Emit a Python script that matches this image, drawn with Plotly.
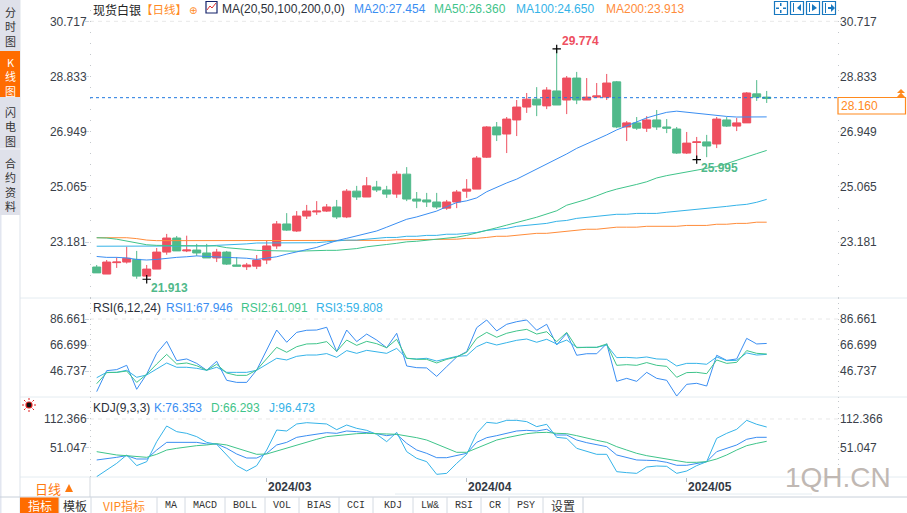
import plotly.graph_objects as go

W, H = 907, 513

# daily candles
idx = list(range(68))
open_ = [22.33, 22.09, 22.48, 22.50, 22.59, 22.02, 22.26, 22.84, 23.32, 22.88, 22.91, 22.81, 22.64, 22.84, 22.40, 22.34, 22.36,
         22.57, 23.05, 23.80, 23.56, 24.07, 24.21, 24.24, 24.38, 24.04, 24.92, 24.72, 25.06, 24.96, 24.82, 25.50, 24.65, 24.62,
         24.55, 24.34, 24.55, 24.92, 24.99, 26.08, 27.11, 26.87, 27.35, 27.79, 28.06, 27.83, 28.34, 28.03, 28.78, 28.03, 28.13,
         28.13, 28.65, 27.11, 27.25, 27.07, 27.35, 27.11, 27.04, 26.22, 26.58, 26.60, 26.53, 27.35, 27.14, 27.25, 28.24, 28.13]
high = [22.40, 22.57, 22.66, 23.02, 22.88, 22.40, 22.98, 23.46, 23.39, 23.40, 23.12, 23.12, 22.95, 22.88, 22.67, 22.47, 22.74,
        23.22, 23.90, 24.17, 24.24, 24.45, 24.58, 24.48, 24.62, 24.99, 25.10, 25.40, 25.27, 25.10, 25.61, 25.74, 24.89, 24.86,
        24.86, 24.62, 24.96, 25.33, 26.12, 27.14, 27.28, 27.45, 28.03, 28.27, 28.47, 28.47, 29.774, 28.85, 28.99, 28.78, 28.61,
        28.92, 28.68, 27.31, 27.45, 27.48, 27.69, 27.38, 27.11, 26.94, 26.77, 26.84, 27.45, 27.45, 27.42, 28.30, 28.71, 28.34]
low = [22.13, 22.09, 22.30, 22.45, 21.93, 21.913, 22.26, 22.75, 22.88, 22.84, 22.71, 22.64, 22.50, 22.40, 22.36, 22.23, 22.26,
       22.43, 22.95, 23.56, 23.53, 23.97, 24.11, 24.21, 23.97, 24.00, 24.62, 24.72, 24.89, 24.69, 24.69, 24.58, 24.34, 24.38,
       24.31, 24.28, 24.34, 24.69, 24.99, 26.05, 26.63, 26.22, 26.80, 27.59, 27.48, 27.72, 27.86, 27.55, 27.89, 28.03, 28.10,
       28.03, 27.07, 26.63, 27.01, 26.94, 27.01, 26.90, 26.19, 26.19, 25.995, 26.08, 26.39, 27.11, 26.97, 27.25, 28.00, 27.93]
close = [22.13, 22.50, 22.50, 22.63, 22.02, 22.26, 22.84, 23.32, 22.88, 22.91, 22.81, 22.64, 22.84, 22.43, 22.36, 22.40, 22.57,
         23.05, 23.80, 23.59, 24.07, 24.24, 24.24, 24.38, 24.04, 24.92, 24.72, 25.10, 24.96, 24.82, 25.50, 24.65, 24.58, 24.55,
         24.38, 24.55, 24.89, 24.99, 26.05, 27.11, 26.84, 27.38, 27.79, 28.06, 27.86, 28.37, 27.86, 28.78, 28.03, 28.13, 28.17,
         28.61, 27.11, 27.25, 27.07, 27.35, 27.11, 27.07, 26.22, 26.56, 26.60, 26.46, 27.38, 27.14, 27.25, 28.27, 28.13, 28.08]

ma20 = [22.69, 22.66, 22.66, 22.64, 22.59, 22.57, 22.59, 22.63, 22.66, 22.68, 22.71, 22.69, 22.68, 22.66, 22.66, 22.63, 22.59,
        22.63, 22.68, 22.77, 22.84, 22.91, 23.00, 23.12, 23.23, 23.31, 23.39, 23.48, 23.56, 23.69, 23.83, 23.96, 24.04, 24.14,
        24.24, 24.39, 24.53, 24.59, 24.69, 24.90, 25.06, 25.20, 25.33, 25.50, 25.68, 25.85, 26.02, 26.19, 26.38, 26.53, 26.67,
        26.84, 27.01, 27.14, 27.28, 27.42, 27.52, 27.61, 27.65, 27.61, 27.58, 27.54, 27.51, 27.47, 27.45, 27.46, 27.46, 27.454]
ma50 = [23.33, 23.32, 23.28, 23.22, 23.16, 23.09, 23.07, 23.07, 23.07, 23.07, 23.07, 23.07, 23.05, 22.99, 22.96, 22.92, 22.90,
        22.89, 22.88, 22.87, 22.87, 22.88, 22.90, 22.90, 22.90, 22.93, 22.96, 23.02, 23.07, 23.10, 23.14, 23.19, 23.21, 23.24,
        23.28, 23.30, 23.35, 23.41, 23.49, 23.57, 23.67, 23.76, 23.86, 23.94, 24.03, 24.14, 24.25, 24.44, 24.53, 24.64, 24.76,
        24.89, 24.99, 25.06, 25.15, 25.24, 25.37, 25.45, 25.51, 25.58, 25.64, 25.69, 25.76, 25.86, 25.98, 26.10, 26.20, 26.31]
ma100 = [23.04, 23.04, 23.04, 23.04, 23.04, 23.04, 23.04, 23.04, 23.04, 23.04, 23.04, 23.05, 23.07, 23.08, 23.09, 23.12, 23.15,
         23.15, 23.15, 23.16, 23.16, 23.16, 23.16, 23.19, 23.22, 23.25, 23.25, 23.28, 23.30, 23.34, 23.34, 23.38, 23.38, 23.41,
         23.41, 23.45, 23.45, 23.48, 23.51, 23.58, 23.62, 23.65, 23.72, 23.75, 23.79, 23.82, 23.89, 23.92, 23.99, 24.03, 24.06,
         24.09, 24.13, 24.13, 24.16, 24.16, 24.16, 24.20, 24.23, 24.27, 24.30, 24.33, 24.37, 24.40, 24.44, 24.47, 24.54, 24.64]
ma200 = [23.33, 23.33, 23.33, 23.33, 23.30, 23.25, 23.23, 23.23, 23.23, 23.23, 23.23, 23.23, 23.23, 23.23, 23.23, 23.23, 23.23,
         23.23, 23.23, 23.23, 23.23, 23.23, 23.23, 23.24, 23.24, 23.24, 23.24, 23.24, 23.24, 23.24, 23.26, 23.26, 23.26, 23.28,
         23.28, 23.28, 23.28, 23.31, 23.31, 23.34, 23.38, 23.38, 23.41, 23.45, 23.48, 23.48, 23.51, 23.55, 23.58, 23.62, 23.62,
         23.65, 23.69, 23.69, 23.69, 23.72, 23.72, 23.72, 23.72, 23.75, 23.75, 23.75, 23.79, 23.79, 23.82, 23.82, 23.86, 23.86]

rsi1 = [30.9, 47.0, 47.8, 51.1, 32.7, 44.4, 60.3, 69.5, 54.7, 56.0, 52.6, 47.3, 54.2, 39.6, 38.0, 38.0, 47.5, 62.9, 78.2, 68.8,
        76.4, 78.0, 78.2, 80.3, 61.6, 78.2, 69.3, 75.1, 70.5, 64.6, 75.7, 50.6, 49.3, 49.1, 42.6, 50.1, 57.5, 61.6, 80.0, 85.9,
        77.5, 82.6, 84.6, 85.9, 78.0, 82.6, 66.7, 75.7, 58.8, 60.0, 60.0, 67.7, 38.8, 41.1, 38.8, 45.7, 41.1, 39.6, 27.5, 36.5,
        37.3, 35.2, 58.8, 54.9, 56.0, 71.8, 67.5, 67.9]
rsi2 = [37.0, 45.5, 45.7, 46.7, 38.0, 44.2, 52.1, 59.5, 52.1, 52.9, 50.8, 47.3, 51.9, 45.2, 43.4, 43.4, 47.5, 56.0, 64.9, 61.1,
        65.4, 67.5, 67.7, 69.3, 61.8, 70.5, 66.4, 69.5, 67.7, 64.6, 71.1, 56.5, 55.7, 55.7, 52.9, 55.7, 57.5, 61.1, 71.8, 76.4,
        72.6, 75.7, 77.5, 78.7, 75.1, 76.9, 69.3, 76.4, 64.6, 64.9, 64.9, 67.5, 51.1, 51.6, 51.1, 53.2, 51.1, 50.3, 41.9, 45.5,
        45.7, 44.7, 55.2, 52.6, 53.4, 62.4, 60.3, 59.8]
rsi3 = [41.6, 45.7, 45.7, 47.3, 41.9, 43.7, 48.3, 52.9, 49.6, 49.6, 48.8, 47.3, 49.6, 45.7, 45.7, 45.7, 47.3, 52.1, 56.5, 55.2,
        58.0, 59.0, 59.0, 60.1, 57.2, 62.4, 60.3, 62.6, 61.6, 60.3, 64.1, 56.5, 56.0, 56.5, 54.4, 56.0, 58.0, 58.5, 65.4, 68.8,
        66.7, 68.5, 70.3, 71.3, 68.8, 71.1, 67.5, 70.5, 64.9, 64.9, 64.9, 66.7, 57.0, 57.2, 56.7, 57.5, 56.0, 55.7, 50.6, 52.6,
        52.6, 51.9, 57.5, 54.7, 54.9, 60.6, 59.0, 59.5]

kdj_k = [24.7, 26.8, 30.4, 33.9, 26.8, 26.8, 46.0, 62.4, 62.4, 62.4, 62.4, 58.9, 58.9, 49.6, 37.5, 28.9, 28.9, 38.9, 56.8, 62.4,
         73.1, 76.7, 79.6, 83.1, 81.7, 86.7, 85.3, 83.1, 81.0, 76.7, 79.6, 60.3, 46.0, 38.9, 29.6, 29.6, 33.9, 38.9, 62.4, 72.4,
         76.7, 81.7, 86.7, 88.1, 86.7, 90.3, 78.1, 78.1, 67.4, 61.7, 56.8, 53.2, 35.4, 29.6, 24.7, 24.0, 23.2, 19.7, 13.3, 13.3,
         17.5, 21.1, 42.5, 49.6, 56.8, 68.9, 73.2, 73.2]
kdj_d = [42.5, 38.2, 35.4, 33.9, 31.8, 30.4, 36.8, 46.0, 49.6, 53.2, 55.3, 56.8, 59.6, 56.8, 49.6, 42.5, 36.8, 37.5, 43.9, 51.0,
         56.8, 63.9, 68.9, 74.6, 76.7, 79.6, 81.0, 81.7, 81.7, 80.3, 79.6, 76.7, 72.4, 67.4, 58.9, 49.6, 41.1, 41.1, 49.6, 58.9,
         67.4, 72.4, 76.7, 81.0, 83.1, 83.8, 81.7, 81.0, 76.7, 71.0, 66.7, 62.4, 53.2, 46.0, 38.9, 33.9, 30.4, 28.2, 24.0, 19.7,
         19.7, 21.1, 26.8, 35.4, 46.0, 55.3, 60.3, 64.6]
kdj_j = [-11.0, 3.3, 17.5, 35.4, 12.6, 21.1, 63.9, 97.4, 85.3, 81.7, 74.6, 62.4, 58.2, 35.4, 12.6, 1.1, 12.6, 46.0, 88.8, 86.7,
         101.7, 104.5, 103.8, 101.7, 89.5, 99.5, 92.4, 88.1, 79.6, 63.9, 83.8, 42.5, 28.2, 21.1, -6.0, -3.9, 17.5, 36.8, 81.7, 105.2,
         103.1, 109.5, 109.5, 106.7, 96.0, 101.0, 73.1, 71.0, 49.6, 43.9, 36.8, 36.8, -0.3, -2.4, -3.9, 9.7, 11.8, 11.1, -3.9, 1.1,
         12.6, 21.1, 71.0, 81.7, 90.3, 109.5, 101.0, 95.2]

price_ticks = [23.181, 25.065, 26.949, 28.833, 30.717]
rsi_ticks = [46.737, 66.699, 86.661]
kdj_ticks = [51.047, 112.366]
month_idx = [17, 37, 59]
month_labels = ["2024/03", "2024/04", "2024/05"]
extreme_idx = [46, 5, 60]
extreme_val = [29.774, 21.913, 25.995]
last_line = 28.11

BLUE = "#3a8ef2"
GREEN = "#3fc48a"
CYAN = "#35b3e8"
ORANGE = "#ff8c3a"
RED_C = "#ee4f5f"
GREEN_C = "#50b98a"
TICK = "#c9d3dc"
SEP = "#e4ecf1"
FONT = "Liberation Sans"
CJK = "Noto Sans CJK SC"

fig = go.Figure()


def px(x):
    return x / W


def py(y):
    return 1 - y / H


def text(x, y, s, color="#333333", size=12, anchor="left", font=FONT, **kw):
    fig.add_annotation(x=px(x), y=py(y), xref="paper", yref="paper", text=s, showarrow=False, xanchor=anchor,
                       yanchor="middle", align="center", borderpad=0, font=dict(family=font, size=size, color=color), **kw)


def rect(x0, y0, x1, y1, fill=None, line=None, width=1, layer="below"):
    fig.add_shape(type="rect", xref="paper", yref="paper", x0=px(x0), x1=px(x1), y0=py(y0), y1=py(y1), layer=layer,
                  fillcolor=fill or "rgba(0,0,0,0)", line=dict(color=line or "rgba(0,0,0,0)", width=width if line else 0))


def seg(x0, y0, x1, y1, color=SEP, width=1, layer="below"):
    fig.add_shape(type="line", xref="paper", yref="paper", x0=px(x0), x1=px(x1), y0=py(y0), y1=py(y1), layer=layer,
                  line=dict(color=color, width=width))


def poly(points, fill):
    path = "M" + " L".join(f"{px(a):.5f},{py(b):.5f}" for a, b in points) + " Z"
    fig.add_shape(type="path", xref="paper", yref="paper", path=path, fillcolor=fill, line=dict(width=0), layer="above")


# candles and indicator lines
fig.add_trace(go.Candlestick(x=idx, open=open_, high=high, low=low, close=close, xaxis="x", yaxis="y", whiskerwidth=0,
                             increasing=dict(line=dict(color=RED_C, width=1), fillcolor=RED_C),
                             decreasing=dict(line=dict(color=GREEN_C, width=1), fillcolor=GREEN_C),
                             hoverinfo="skip", showlegend=False))

for vals, col, xa, ya in [
    (ma200, ORANGE, "x", "y4"), (ma100, CYAN, "x", "y4"), (ma50, GREEN, "x", "y4"), (ma20, BLUE, "x", "y4"),
    (rsi3, CYAN, "x2", "y5"), (rsi2, GREEN, "x2", "y5"), (rsi1, BLUE, "x2", "y2"),
    (kdj_j, CYAN, "x3", "y6"), (kdj_d, GREEN, "x3", "y6"), (kdj_k, BLUE, "x3", "y3"),
]:
    fig.add_trace(go.Scatter(x=idx, y=vals, mode="lines", xaxis=xa, yaxis=ya, line=dict(color=col, width=1),
                             hoverinfo="skip", showlegend=False))

# high / low crosses
fig.add_trace(go.Scatter(x=extreme_idx, y=extreme_val, mode="markers", xaxis="x", yaxis="y", hoverinfo="skip", showlegend=False,
                         marker=dict(symbol="cross-thin", size=6, line=dict(color="#000000", width=1.2))))
for i, v, col, dx, dy in [(46, 29.774, RED_C, 3, 8), (5, 21.913, GREEN_C, 2, -9), (60, 25.995, GREEN_C, 2, -8)]:
    fig.add_annotation(x=i, y=v, xref="x", yref="y", text=f"<b>{v:.3f}</b>", showarrow=False, xanchor="left", yanchor="middle",
                       xshift=dx, yshift=dy, font=dict(family=FONT, size=12, color=col))

X_RANGE = [-0.67, 74.2]
X_DOMAIN = [px(90), px(838.7)]


def yaxis(top, bottom, rng, ticks, minor_step, side, overlay=None):
    ax = dict(domain=[py(bottom), py(top)], range=rng, tickmode="array", tickvals=ticks, ticktext=[f"{t:.3f}" for t in ticks],
              showgrid=False, zeroline=False, showline=False, ticks="outside", ticklen=4 if side == "left" else 1, tickcolor=TICK,
              tickwidth=1, tickfont=dict(family=FONT, size=12, color="#3a3f4a"), side=side,
              ticklabelstandoff=-4 if side == "left" else -3,
              minor=dict(tick0=ticks[0], dtick=minor_step, ticks="inside", ticklen=1, tickcolor="#c4c8cc", tickwidth=1, showgrid=False))
    if overlay:
        ax.update(overlaying=overlay, anchor="x" if overlay == "y" else "x" + overlay[1:])
    return ax


PRICE_R = [21.273, 31.444]
RSI_R = [26.78, 102.78]
KDJ_R = [-11.7, 159.4]

fig.update_layout(
    width=W, height=H, margin=dict(l=0, r=0, t=0, b=0), autosize=False, paper_bgcolor="white", plot_bgcolor="white",
    showlegend=False, boxgap=0.2, boxgroupgap=0,
    xaxis=dict(domain=X_DOMAIN, range=X_RANGE, anchor="y", visible=False, rangeslider=dict(visible=False)),
    xaxis2=dict(domain=X_DOMAIN, range=X_RANGE, anchor="y2", visible=False, matches="x"),
    xaxis3=dict(domain=X_DOMAIN, range=X_RANGE, anchor="y3", matches="x", tickmode="array", tickvals=month_idx, ticktext=month_labels,
                ticks="outside", ticklen=4, tickcolor="#b8c0c8", showgrid=False, zeroline=False, showline=False, ticklabelshift=23,
                ticklabelstandoff=-5, tickfont=dict(family=FONT, size=12, color="#333a45", weight="bold")),
    yaxis=yaxis(0, 298, PRICE_R, price_ticks, 0.3768, "left"),
    yaxis2=yaxis(298, 397, RSI_R, rsi_ticks, 3.992, "left"),
    yaxis3=yaxis(397, 477, KDJ_R, kdj_ticks, 12.264, "left"),
    yaxis4=yaxis(0, 298, PRICE_R, price_ticks, 0.3768, "right", "y"),
    yaxis5=yaxis(298, 397, RSI_R, rsi_ticks, 3.992, "right", "y2"),
    yaxis6=yaxis(397, 477, KDJ_R, kdj_ticks, 12.264, "right", "y3"),
)
fig.update_layout(xaxis_anchor="y", yaxis_anchor="x", yaxis2_anchor="x2", yaxis3_anchor="x3")

# last price and top dashes
fig.add_shape(type="line", xref="paper", yref="y", x0=px(90), x1=px(838), y0=last_line, y1=last_line, layer="above",
              line=dict(color="#1f78e0", width=1, dash="3px,3px"))
for top_val, yr in [(price_ticks[-1], "y"), (rsi_ticks[-1], "y2"), (kdj_ticks[-1], "y3")]:
    fig.add_shape(type="line", xref="paper", yref=yr, x0=px(90), x1=px(838), y0=top_val, y1=top_val, layer="below",
                  line=dict(color="#e8e8e8", width=1, dash="4px,4px"))

# frame
seg(20, 298, 907, 298)
seg(20, 397, 907, 397)
seg(20, 477, 907, 477)
seg(20, 0, 20, 513, "#dde3ea")
seg(90, 477, 90, 497, "#d4d9df")
seg(395, 494, 812, 494)
rect(0, 0, 1.5, 513, fill="#e2e6f0")
rect(0, 0, 20, 215, fill="#dfe1ea")
rect(0, 51, 20, 97, fill="#ff6c00")
seg(0, 149, 20, 149, "#f4f4f8")
for y, s, col in [(27, "分<br>时<br>图", "#333333"), (76, "K<br>线<br>图", "#ffffff"), (126, "闪<br>电<br>图", "#333333"),
                  (184, "合<br>约<br>资<br>料", "#333333")]:
    text(10, y, s, col, 11, "center", CJK)

# main legend row
text(92, 9.5, "现货白银", "#222222", 12, font=CJK)
text(140, 9.5, "【日线】", "#ff8a1e", 11.5, font=CJK)
text(192.5, 11, "⊕", "#ff8a1e", 10, "center", "DejaVu Sans")
rect(206, 1.5, 217, 13, fill="#ffffff", line="#15236b", width=1.2, layer="above")
fig.add_shape(type="path", xref="paper", yref="paper", layer="above", line=dict(color="#e03030", width=1), path="M" + " L".join(
    f"{px(a):.5f},{py(b):.5f}" for a, b in [(207, 10), (210, 6), (212, 8), (216, 3)]))
text(221, 9.5, "MA(20,50,100,200,0,0)", "#2b2f38", 12)
text(353, 9.5, "MA20:27.454", BLUE, 12)
text(433, 9.5, "MA50:26.360", GREEN, 12)
text(515, 9.5, "MA100:24.650", CYAN, 12)
text(605, 9.5, "MA200:23.913", ORANGE, 12)

# rsi / kdj legend rows
text(92, 307.5, "RSI(6,12,24)", "#2b2f38", 12)
text(165, 307.5, "RSI1:67.946", BLUE, 12)
text(240, 307.5, "RSI2:61.091", GREEN, 12)
text(315, 307.5, "RSI3:59.808", CYAN, 12)
text(92, 407.5, "KDJ(9,3,3)", "#2b2f38", 12)
text(153, 407.5, "K:76.353", BLUE, 12)
text(210, 407.5, "D:66.293", GREEN, 12)
text(268, 407.5, "J:96.473", CYAN, 12)

# toolbar top right
for x0 in [774, 790, 806, 822]:
    rect(x0 + 0.5, 1.5, x0 + 13.5, 14.5, line="#1878c0", width=1.2, layer="above")
poly([(780, 3), (781.5, 3), (781.5, 6), (780, 6)], "#1878c0")
poly([(780, 10), (781.5, 10), (781.5, 13), (780, 13)], "#1878c0")
poly([(776, 7.5), (779, 7.5), (779, 9), (776, 9)], "#1878c0")
poly([(783, 7.5), (786, 7.5), (786, 9), (783, 9)], "#1878c0")
poly([(793, 3), (794, 3), (794, 12), (793, 12)], "#1878c0")
poly([(801, 4), (797, 8), (801, 11)], "#1878c0")
poly([(809, 3), (810, 3), (810, 12), (809, 12)], "#1878c0")
poly([(812, 4), (817, 8), (812, 11)], "#1878c0")
poly([(825, 3), (826, 3), (826, 13), (825, 13)], "#1878c0")
poly([(828, 7), (831, 7), (831, 4), (835, 8), (831, 12), (831, 9), (828, 9)], "#1878c0")

# last price box and arrows
rect(838, 97.5, 905.5, 114, fill="#ffffff", line="#ff8a1e", width=1.2, layer="above")
text(840, 106, "28.160", "#ff8a1e", 12)
poly([(901, 89), (905, 93), (897, 93)], "#ff8a1e")
poly([(901, 92.5), (905, 97), (897, 97)], "#ff8a1e")

# red sun icon in the kdj panel
fig.add_shape(type="circle", xref="paper", yref="paper", x0=px(26), x1=px(32), y0=py(408), y1=py(402), layer="above",
              fillcolor="#101010", line=dict(color="#e02020", width=1.2))
for x0, y0, x1, y1 in [(29, 398, 29, 400), (29, 410, 29, 412), (22, 405, 24, 405), (34, 405, 36, 405),
                       (24, 400, 25.5, 401.5), (34, 400, 32.5, 401.5), (24, 410, 25.5, 408.5), (34, 410, 32.5, 408.5)]:
    seg(x0, y0, x1, y1, "#e02020", 1, "above")

# bottom left period label
text(34, 488, "日线", "#ff7a10", 13, font=CJK)
poly([(69, 484), (73, 492), (65, 492)], "#ff7a10")

# bottom tab row
seg(0, 497, 907, 497, "#c8d0da")
rect(20, 497.5, 59, 513, fill="#ff6c00")
seg(583, 497, 583, 513, "#c8d0da")
tabs = [("指标", 20, 59, "#ffffff", CJK), ("模板", 59, 91, "#333333", CJK), ("VIP指标", 91, 157, "#ff8a1e", CJK),
        ("MA", 157, 185, "#333333", "Liberation Mono"), ("MACD", 185, 225, "#333333", "Liberation Mono"),
        ("BOLL", 225, 265, "#333333", "Liberation Mono"), ("VOL", 265, 299, "#333333", "Liberation Mono"),
        ("BIAS", 299, 339, "#333333", "Liberation Mono"), ("CCI", 339, 373, "#333333", "Liberation Mono"),
        ("KDJ", 373, 413, "#333333", "Liberation Mono"), ("LW&", 413, 447, "#333333", "Liberation Mono"),
        ("RSI", 447, 481, "#333333", "Liberation Mono"), ("CR", 481, 509, "#333333", "Liberation Mono"),
        ("PSY", 509, 543, "#333333", "Liberation Mono"), ("设置", 543, 583, "#333333", CJK)]
for name, a, b, col, fam in tabs:
    text((a + b) / 2, 505, name, col, 12 if fam == CJK else 10, "center", fam)
    if a > 20:
        seg(a, 497, a, 513, "#d4dae2")

# watermark
text(837.5, 477, "1QH.CN", "#c0b8b3", 28, "center", FONT)

# the page keeps a default body margin that would push the chart off the window
fig.write_html("out.html", config={"displayModeBar": False}, post_script="document.body.style.margin='0';")
